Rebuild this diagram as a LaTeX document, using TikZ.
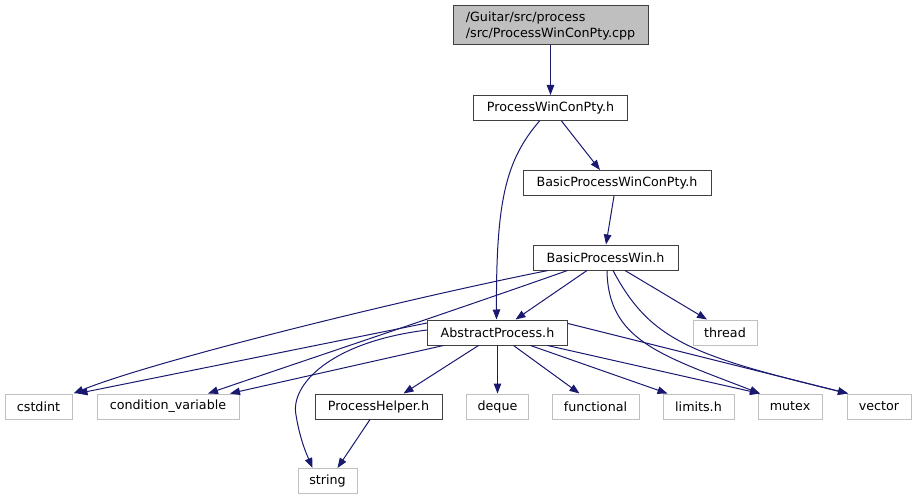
\documentclass[tikz,border=0pt]{standalone}
\usepackage{fontspec}
\setmainfont{DejaVu Sans}
\usetikzlibrary{arrows.meta}
\definecolor{edgec}{HTML}{191970}
\definecolor{grayb}{HTML}{BFBFBF}
\definecolor{darkb}{HTML}{404040}
\begin{document}
\begin{tikzpicture}[x=1pt,y=-1pt,
  box/.style={draw=darkb, line width=1pt, fill=white, inner sep=0pt,
    minimum height=25pt, font=\fontsize{12.7}{16}\selectfont},
  ext/.style={box, draw=grayb},
  edge/.style={draw=edgec, line width=1pt, -{Triangle[length=10pt,width=7.5pt]}}]
\useasboundingbox (0,0) rectangle (915,500);

\node[box, fill=grayb, minimum width=195pt, minimum height=39pt, align=left] (top) at (550.5,25.5) {/Guitar/src/process\\/src/ProcessWinConPty.cpp};
\node[box, minimum width=154pt] (pwcp) at (550.5,108) {ProcessWinConPty.h};
\node[box, minimum width=188pt] (bpwcp) at (617,183) {BasicProcessWinConPty.h};
\node[box, minimum width=145pt] (bpw) at (605.5,257.5) {BasicProcessWin.h};
\node[box, minimum width=140pt] (ap) at (497.5,332.5) {AbstractProcess.h};
\node[ext, minimum width=64pt] (thread) at (725,332.5) {thread};
\node[ext, minimum width=67pt] (cstdint) at (38.5,406.5) {cstdint};
\node[ext, minimum width=142pt] (cv) at (168,406.5) {condition\_variable};
\node[box, minimum width=127pt] (ph) at (378.5,406.5) {ProcessHelper.h};
\node[ext, minimum width=62pt] (deque) at (497.5,406.5) {deque};
\node[ext, minimum width=87pt] (functional) at (595.5,406.5) {functional};
\node[ext, minimum width=71pt] (limits) at (698.5,406.5) {limits.h};
\node[ext, minimum width=64pt] (mutex) at (790,406.5) {mutex};
\node[ext, minimum width=64pt] (vector) at (879,406.5) {vector};
\node[ext, minimum width=59pt] (string) at (327.5,481) {string};

% top -> ProcessWinConPty.h
\draw[edge] (top.south -| pwcp.north) -- (pwcp.north);
% ProcessWinConPty.h
\draw[edge] ([xshift=11pt]pwcp.south) -- ([xshift=-17pt]bpwcp.north);
\draw[edge] ([xshift=-11pt]pwcp.south) .. controls (506,160) and (496,200) .. ([xshift=-1pt]ap.north);
% BasicProcessWinConPty.h
\draw[edge] ([xshift=-3pt]bpwcp.south) -- ([xshift=0.5pt]bpw.north);
% BasicProcessWin.h
\draw[edge] ([xshift=-18.5pt]bpw.south) -- ([xshift=18pt]ap.north);
\draw[edge] ([xshift=19.5pt]bpw.south) -- ([xshift=-18pt]thread.north);
\draw[edge] ([xshift=-57.5pt]bpw.south) .. controls (400,300) and (150,362) .. ([xshift=35pt]cstdint.north);
\draw[edge] ([xshift=-38pt]bpw.south) .. controls (450,312) and (300,362) .. ([xshift=40pt]cv.north);
\draw[edge] ([xshift=1.5pt]bpw.south) .. controls (608,340) and (660,355) .. ([xshift=-30pt]mutex.north);
\draw[edge] ([xshift=7.5pt]bpw.south) .. controls (650,340) and (690,355) .. ([xshift=-31pt]vector.north);
% AbstractProcess.h
\draw[edge] ([yshift=9.5pt]ap.west) -- ([xshift=39pt]cstdint.north);
\draw[edge] ([xshift=-54pt]ap.south) -- ([xshift=62pt]cv.north);
\draw[edge] ([yshift=2.5pt]ap.west) .. controls (330,342) and (290,385) .. (296,415) .. controls (300,440) and (307,455) .. ([xshift=-15pt]string.north);
\draw[edge] ([xshift=-19pt]ap.south) -- ([xshift=25pt]ph.north);
\draw[edge] (ap.south) -- (deque.north);
\draw[edge] ([xshift=16pt]ap.south) -- ([xshift=-16pt]functional.north);
\draw[edge] ([xshift=33pt]ap.south) -- ([xshift=-31pt]limits.north);
\draw[edge] ([xshift=50pt]ap.south) -- ([xshift=-30pt]mutex.north);
\draw[edge] ([yshift=9pt]ap.east) -- ([xshift=-31pt]vector.north);
% ProcessHelper.h
\draw[edge] ([xshift=-8.5pt]ph.south) -- ([xshift=10pt]string.north);
\end{tikzpicture}
\end{document}
